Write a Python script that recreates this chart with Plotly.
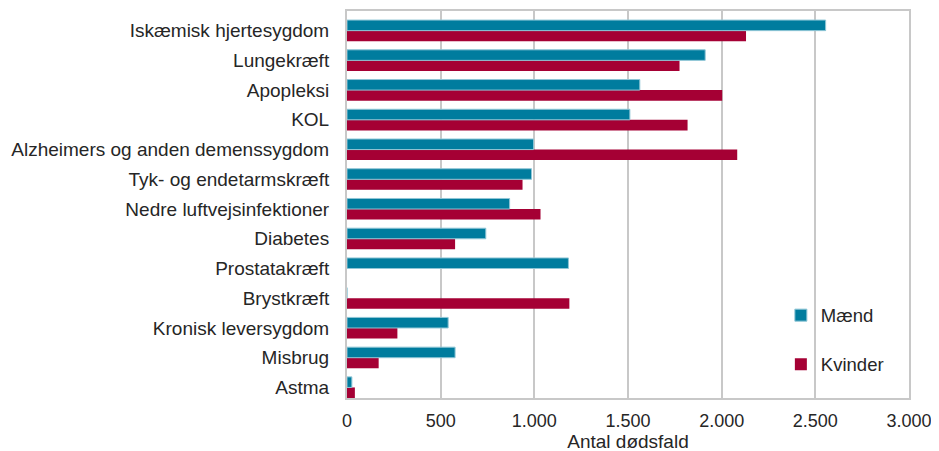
import plotly.graph_objects as go

categories = ["Iskæmisk hjertesygdom", "Lungekræft", "Apopleksi", "KOL",
              "Alzheimers og anden demenssygdom", "Tyk- og endetarmskræft",
              "Nedre luftvejsinfektioner", "Diabetes", "Prostatakræft",
              "Brystkræft", "Kronisk leversygdom", "Misbrug", "Astma"]
maend = [2555, 1912, 1563, 1510, 996, 985, 868, 741, 1182, 0, 540, 577, 26]
kvinder = [2130, 1775, 2003, 1818, 2083, 937, 1033, 577, 0, 1187, 269, 169, 42]
x_ticks = [0, 500, 1000, 1500, 2000, 2500, 3000]
x_labels = ["0", "500", "1.000", "1.500", "2.000", "2.500", "3.000"]

font = "Liberation Sans, Arial, sans-serif"
fig = go.Figure()
fig.add_trace(go.Bar(y=categories, x=kvinder, name="Kvinder", orientation="h",
                     marker=dict(color="#A50034", line=dict(width=0)),
                     legendgroup="k", legendrank=2))
fig.add_trace(go.Bar(y=categories, x=maend, name="Mænd", orientation="h",
                     marker=dict(color="#007C9E", line=dict(color="#8FC6D6", width=1)),
                     legendgroup="m", legendrank=1))
fig.update_layout(
    width=939, height=451,
    margin=dict(l=339, r=38, t=3, b=61, autoexpand=False),
    barmode="group", bargap=0.29, bargroupgap=0.0,
    plot_bgcolor="white", paper_bgcolor="white",
    font=dict(family=font, size=18.5, color="#262626"),
    legend=dict(x=0.772, y=0.262, xanchor="left", yanchor="top",
                traceorder="grouped", tracegroupgap=22, itemwidth=30,
                font=dict(size=18.5, color="#262626"), bgcolor="rgba(0,0,0,0)"),
    xaxis=dict(range=[0, 3000], tickvals=x_ticks, ticktext=x_labels,
               showgrid=True, gridcolor="#C8C8C8", gridwidth=2,
               showline=True, linecolor="#C8C8C8", linewidth=2, mirror=True,
               zeroline=False, ticks="", tickfont=dict(size=18), automargin=False,
               ticklabelstandoff=5,
               title=dict(text="Antal dødsfald", font=dict(size=19), standoff=0)),
    yaxis=dict(categoryorder="array", categoryarray=categories[::-1],
               range=[-0.355, 12.66],
               showline=True, linecolor="#C8C8C8", linewidth=2, mirror=True,
               showgrid=False, ticks="", tickfont=dict(size=19), ticklabelstandoff=12,
               automargin=False),
)
fig.write_html("out.html")
